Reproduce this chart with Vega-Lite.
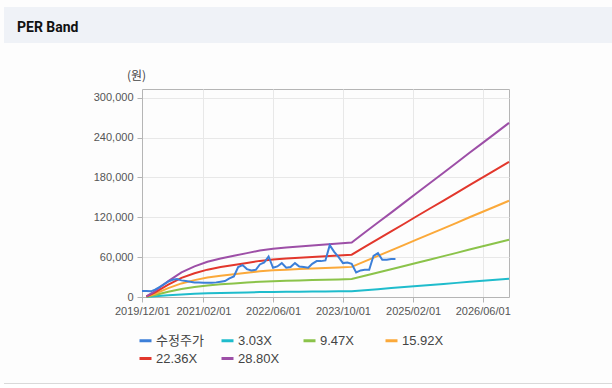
{
 "$schema": "https://vega.github.io/schema/vega-lite/v6.json",
 "background": "#fdfdfd",
 "padding": {"left": 4, "top": 7, "right": 0, "bottom": 0},
 "spacing": 25,
 "config": {"view": {"stroke": null}, "font": "Liberation Sans"},
 "vconcat": [
  {
   "width": 608, "height": 36,
   "view": {"fill": "#eff2f7", "stroke": null},
   "data": {"values": []},
   "mark": "point",
   "title": {"text": "PER Band", "anchor": "start", "frame": "group", "orient": "bottom", "offset": -11, "dx": 13, "fontSize": 14, "fontWeight": "bold", "font": "Roboto", "color": "#111111", "baseline": "alphabetic"}
  },
  {
   "spacing": 66,
   "vconcat": [
    {
     "spacing": 0,
     "hconcat": [
      {"width": 88, "height": 10, "view": {"stroke": null}, "data": {"values": []}, "mark": "point"},
      {
       "width": 367, "height": 208,
       "view": {"stroke": "#b5b5b5"},
       "data": {"values": [
        {"d":"2020-01-01","s":"3.03X","v":105},{"d":"2020-03-01","s":"3.03X","v":947},{"d":"2020-06-01","s":"3.03X","v":2525},{"d":"2020-09-01","s":"3.03X","v":3893},{"d":"2020-12-01","s":"3.03X","v":4840},{"d":"2021-03-01","s":"3.03X","v":5576},{"d":"2021-06-01","s":"3.03X","v":6102},{"d":"2021-09-01","s":"3.03X","v":6523},{"d":"2021-12-01","s":"3.03X","v":6944},{"d":"2022-03-01","s":"3.03X","v":7365},{"d":"2022-06-01","s":"3.03X","v":7628},{"d":"2022-09-01","s":"3.03X","v":7838},{"d":"2022-12-01","s":"3.03X","v":7996},{"d":"2023-03-01","s":"3.03X","v":8154},{"d":"2023-06-01","s":"3.03X","v":8312},{"d":"2023-09-01","s":"3.03X","v":8469},{"d":"2023-12-01","s":"3.03X","v":8627},{"d":"2024-03-01","s":"3.03X","v":10205},{"d":"2024-06-01","s":"3.03X","v":11783},{"d":"2024-09-01","s":"3.03X","v":13361},{"d":"2024-12-01","s":"3.03X","v":14940},{"d":"2025-03-01","s":"3.03X","v":16518},{"d":"2025-06-01","s":"3.03X","v":18096},{"d":"2025-09-01","s":"3.03X","v":19674},{"d":"2025-12-01","s":"3.03X","v":21252},{"d":"2026-03-01","s":"3.03X","v":22830},{"d":"2026-06-01","s":"3.03X","v":24408},{"d":"2026-09-01","s":"3.03X","v":25987},{"d":"2026-12-01","s":"3.03X","v":27565},
        {"d":"2020-01-01","s":"9.47X","v":329},{"d":"2020-03-01","s":"9.47X","v":2959},{"d":"2020-06-01","s":"9.47X","v":7892},{"d":"2020-09-01","s":"9.47X","v":12166},{"d":"2020-12-01","s":"9.47X","v":15126},{"d":"2021-03-01","s":"9.47X","v":17427},{"d":"2021-06-01","s":"9.47X","v":19072},{"d":"2021-09-01","s":"9.47X","v":20387},{"d":"2021-12-01","s":"9.47X","v":21702},{"d":"2022-03-01","s":"9.47X","v":23017},{"d":"2022-06-01","s":"9.47X","v":23839},{"d":"2022-09-01","s":"9.47X","v":24497},{"d":"2022-12-01","s":"9.47X","v":24990},{"d":"2023-03-01","s":"9.47X","v":25484},{"d":"2023-06-01","s":"9.47X","v":25977},{"d":"2023-09-01","s":"9.47X","v":26470},{"d":"2023-12-01","s":"9.47X","v":26963},{"d":"2024-03-01","s":"9.47X","v":31896},{"d":"2024-06-01","s":"9.47X","v":36828},{"d":"2024-09-01","s":"9.47X","v":41760},{"d":"2024-12-01","s":"9.47X","v":46693},{"d":"2025-03-01","s":"9.47X","v":51625},{"d":"2025-06-01","s":"9.47X","v":56557},{"d":"2025-09-01","s":"9.47X","v":61490},{"d":"2025-12-01","s":"9.47X","v":66422},{"d":"2026-03-01","s":"9.47X","v":71354},{"d":"2026-06-01","s":"9.47X","v":76286},{"d":"2026-09-01","s":"9.47X","v":81219},{"d":"2026-12-01","s":"9.47X","v":86151},
        {"d":"2020-01-01","s":"15.92X","v":553},{"d":"2020-03-01","s":"15.92X","v":4975},{"d":"2020-06-01","s":"15.92X","v":13267},{"d":"2020-09-01","s":"15.92X","v":20453},{"d":"2020-12-01","s":"15.92X","v":25428},{"d":"2021-03-01","s":"15.92X","v":29297},{"d":"2021-06-01","s":"15.92X","v":32061},{"d":"2021-09-01","s":"15.92X","v":34272},{"d":"2021-12-01","s":"15.92X","v":36483},{"d":"2022-03-01","s":"15.92X","v":38694},{"d":"2022-06-01","s":"15.92X","v":40076},{"d":"2022-09-01","s":"15.92X","v":41182},{"d":"2022-12-01","s":"15.92X","v":42011},{"d":"2023-03-01","s":"15.92X","v":42840},{"d":"2023-06-01","s":"15.92X","v":43669},{"d":"2023-09-01","s":"15.92X","v":44498},{"d":"2023-12-01","s":"15.92X","v":45328},{"d":"2024-03-01","s":"15.92X","v":53619},{"d":"2024-06-01","s":"15.92X","v":61911},{"d":"2024-09-01","s":"15.92X","v":70203},{"d":"2024-12-01","s":"15.92X","v":78494},{"d":"2025-03-01","s":"15.92X","v":86786},{"d":"2025-06-01","s":"15.92X","v":95078},{"d":"2025-09-01","s":"15.92X","v":103369},{"d":"2025-12-01","s":"15.92X","v":111661},{"d":"2026-03-01","s":"15.92X","v":119953},{"d":"2026-06-01","s":"15.92X","v":128244},{"d":"2026-09-01","s":"15.92X","v":136536},{"d":"2026-12-01","s":"15.92X","v":144828},
        {"d":"2020-01-01","s":"22.36X","v":776},{"d":"2020-03-01","s":"22.36X","v":6988},{"d":"2020-06-01","s":"22.36X","v":18633},{"d":"2020-09-01","s":"22.36X","v":28726},{"d":"2020-12-01","s":"22.36X","v":35714},{"d":"2021-03-01","s":"22.36X","v":41149},{"d":"2021-06-01","s":"22.36X","v":45031},{"d":"2021-09-01","s":"22.36X","v":48136},{"d":"2021-12-01","s":"22.36X","v":51242},{"d":"2022-03-01","s":"22.36X","v":54347},{"d":"2022-06-01","s":"22.36X","v":56288},{"d":"2022-09-01","s":"22.36X","v":57841},{"d":"2022-12-01","s":"22.36X","v":59006},{"d":"2023-03-01","s":"22.36X","v":60170},{"d":"2023-06-01","s":"22.36X","v":61335},{"d":"2023-09-01","s":"22.36X","v":62499},{"d":"2023-12-01","s":"22.36X","v":63664},{"d":"2024-03-01","s":"22.36X","v":75310},{"d":"2024-06-01","s":"22.36X","v":86956},{"d":"2024-09-01","s":"22.36X","v":98601},{"d":"2024-12-01","s":"22.36X","v":110247},{"d":"2025-03-01","s":"22.36X","v":121893},{"d":"2025-06-01","s":"22.36X","v":133539},{"d":"2025-09-01","s":"22.36X","v":145185},{"d":"2025-12-01","s":"22.36X","v":156831},{"d":"2026-03-01","s":"22.36X","v":168477},{"d":"2026-06-01","s":"22.36X","v":180122},{"d":"2026-09-01","s":"22.36X","v":191768},{"d":"2026-12-01","s":"22.36X","v":203414},
        {"d":"2020-01-01","s":"28.80X","v":1000},{"d":"2020-03-01","s":"28.80X","v":9000},{"d":"2020-06-01","s":"28.80X","v":24000},{"d":"2020-09-01","s":"28.80X","v":37000},{"d":"2020-12-01","s":"28.80X","v":46000},{"d":"2021-03-01","s":"28.80X","v":53000},{"d":"2021-06-01","s":"28.80X","v":58000},{"d":"2021-09-01","s":"28.80X","v":62000},{"d":"2021-12-01","s":"28.80X","v":66000},{"d":"2022-03-01","s":"28.80X","v":70000},{"d":"2022-06-01","s":"28.80X","v":72500},{"d":"2022-09-01","s":"28.80X","v":74500},{"d":"2022-12-01","s":"28.80X","v":76000},{"d":"2023-03-01","s":"28.80X","v":77500},{"d":"2023-06-01","s":"28.80X","v":79000},{"d":"2023-09-01","s":"28.80X","v":80500},{"d":"2023-12-01","s":"28.80X","v":82000},{"d":"2024-03-01","s":"28.80X","v":97000},{"d":"2024-06-01","s":"28.80X","v":112000},{"d":"2024-09-01","s":"28.80X","v":127000},{"d":"2024-12-01","s":"28.80X","v":142000},{"d":"2025-03-01","s":"28.80X","v":157000},{"d":"2025-06-01","s":"28.80X","v":172000},{"d":"2025-09-01","s":"28.80X","v":187000},{"d":"2025-12-01","s":"28.80X","v":202000},{"d":"2026-03-01","s":"28.80X","v":217000},{"d":"2026-06-01","s":"28.80X","v":232000},{"d":"2026-09-01","s":"28.80X","v":247000},{"d":"2026-12-01","s":"28.80X","v":262000},
        {"d":"2019-12-01","s":"수정주가","v":9000},{"d":"2020-01-01","s":"수정주가","v":9000},{"d":"2020-02-01","s":"수정주가","v":8500},{"d":"2020-03-01","s":"수정주가","v":11000},{"d":"2020-04-01","s":"수정주가","v":15000},{"d":"2020-05-01","s":"수정주가","v":19000},{"d":"2020-06-01","s":"수정주가","v":23000},{"d":"2020-07-01","s":"수정주가","v":26000},{"d":"2020-08-01","s":"수정주가","v":27000},{"d":"2020-09-01","s":"수정주가","v":25000},{"d":"2020-10-01","s":"수정주가","v":24000},{"d":"2020-11-01","s":"수정주가","v":23000},{"d":"2020-12-01","s":"수정주가","v":22000},{"d":"2021-01-01","s":"수정주가","v":22000},{"d":"2021-02-01","s":"수정주가","v":21500},{"d":"2021-03-01","s":"수정주가","v":21500},{"d":"2021-04-01","s":"수정주가","v":21500},{"d":"2021-05-01","s":"수정주가","v":22000},{"d":"2021-06-01","s":"수정주가","v":23000},{"d":"2021-07-01","s":"수정주가","v":24000},{"d":"2021-08-01","s":"수정주가","v":28000},{"d":"2021-09-01","s":"수정주가","v":31000},{"d":"2021-10-01","s":"수정주가","v":45000},{"d":"2021-11-01","s":"수정주가","v":48000},{"d":"2021-12-01","s":"수정주가","v":42000},{"d":"2022-01-01","s":"수정주가","v":40000},{"d":"2022-02-01","s":"수정주가","v":41000},{"d":"2022-03-01","s":"수정주가","v":49000},{"d":"2022-04-01","s":"수정주가","v":52000},{"d":"2022-05-01","s":"수정주가","v":61000},{"d":"2022-06-01","s":"수정주가","v":44000},{"d":"2022-07-01","s":"수정주가","v":46000},{"d":"2022-08-01","s":"수정주가","v":51000},{"d":"2022-09-01","s":"수정주가","v":44000},{"d":"2022-10-01","s":"수정주가","v":45000},{"d":"2022-11-01","s":"수정주가","v":51000},{"d":"2022-12-01","s":"수정주가","v":46000},{"d":"2023-01-01","s":"수정주가","v":45000},{"d":"2023-02-01","s":"수정주가","v":44000},{"d":"2023-03-01","s":"수정주가","v":50000},{"d":"2023-04-01","s":"수정주가","v":54000},{"d":"2023-05-01","s":"수정주가","v":54000},{"d":"2023-06-01","s":"수정주가","v":55000},{"d":"2023-07-01","s":"수정주가","v":78000},{"d":"2023-08-01","s":"수정주가","v":68000},{"d":"2023-09-01","s":"수정주가","v":60000},{"d":"2023-10-01","s":"수정주가","v":51000},{"d":"2023-11-01","s":"수정주가","v":52000},{"d":"2023-12-01","s":"수정주가","v":50000},{"d":"2024-01-01","s":"수정주가","v":37000},{"d":"2024-02-01","s":"수정주가","v":40000},{"d":"2024-03-01","s":"수정주가","v":41000},{"d":"2024-04-01","s":"수정주가","v":41000},{"d":"2024-05-01","s":"수정주가","v":62000},{"d":"2024-06-01","s":"수정주가","v":66000},{"d":"2024-07-01","s":"수정주가","v":56000},{"d":"2024-08-01","s":"수정주가","v":56000},{"d":"2024-09-01","s":"수정주가","v":57000},{"d":"2024-10-01","s":"수정주가","v":57000}
       ]},
       "mark": {"type": "line", "strokeWidth": 2},
       "encoding": {
        "x": {"field": "d", "type": "temporal",
              "scale": {"type": "utc", "domain": [{"year": 2019, "month": 12, "date": 1, "utc": true}, {"year": 2026, "month": 12, "date": 1, "utc": true}]},
              "axis": {"values": [{"year": 2019, "month": 12, "date": 1, "utc": true}, {"year": 2021, "month": 2, "date": 1, "utc": true}, {"year": 2022, "month": 6, "date": 1, "utc": true}, {"year": 2023, "month": 10, "date": 1, "utc": true}, {"year": 2025, "month": 2, "date": 1, "utc": true}, {"year": 2026, "month": 6, "date": 1, "utc": true}],
                       "labelExpr": "utcFormat(datum.value, '%Y/%m/%d')", "title": null, "grid": true, "gridColor": "#e8e8e8", "domainColor": "#b5b5b5", "tickColor": "#b5b5b5", "tickSize": 5, "labelPadding": 3, "labelFontSize": 11, "labelColor": "#555555", "labelFlush": false, "labelOverlap": false}},
        "y": {"field": "v", "type": "quantitative",
              "scale": {"domain": [0, 313000], "nice": false},
              "axis": {"values": [0, 60000, 120000, 180000, 240000, 300000], "format": ",.0f", "grid": true, "gridColor": "#e8e8e8", "domainColor": "#b5b5b5", "tickColor": "#b5b5b5", "tickSize": 5, "labelPadding": 4, "labelFontSize": 11, "labelColor": "#555555",
                       "title": "(원)", "titleAngle": 0, "titleX": -6, "titleY": -14, "titleAlign": "center", "titleBaseline": "middle", "titleFontWeight": "normal", "titleFontSize": 12, "titleColor": "#444444", "titleFont": "Noto Sans CJK KR"}},
        "color": {"field": "s", "type": "nominal",
                  "scale": {"domain": ["수정주가", "3.03X", "9.47X", "15.92X", "22.36X", "28.80X"], "range": ["#3c7fd8", "#1fbccc", "#8bc34a", "#fba93a", "#e2372c", "#9d4fa7"]},
                  "legend": {"orient": "none", "legendX": 134, "legendY": 326, "direction": "horizontal", "columns": 4, "gridAlign": "all", "columnPadding": 11, "rowPadding": 3, "symbolType": "stroke", "symbolSize": 144, "symbolStrokeWidth": 3, "labelFontSize": 13, "labelColor": "#444444", "labelFont": "Liberation Sans, Noto Sans CJK KR", "labelOffset": 3, "title": null, "padding": 0}}
       }
      }
     ]
    },
    {"width": 608, "height": 1, "view": {"fill": "#d9d9d9", "stroke": null}, "data": {"values": []}, "mark": "point"}
   ]
  }
 ]
}
